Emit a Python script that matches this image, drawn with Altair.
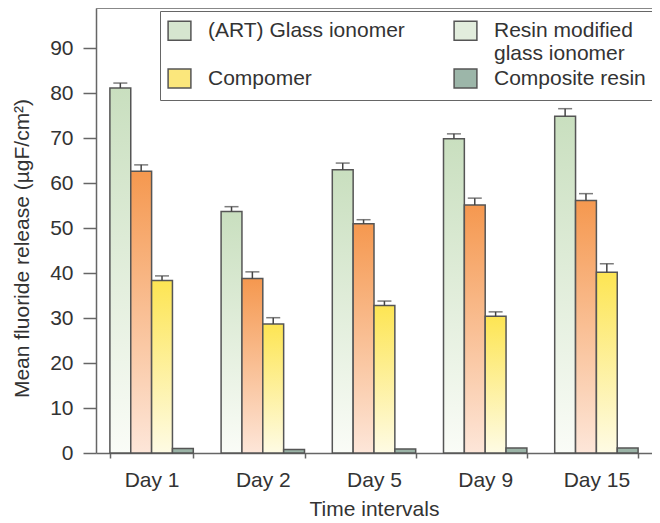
import altair as alt
import pandas as pd

days = ["Day 1", "Day 2", "Day 5", "Day 9", "Day 15"]
series = ["(ART) Glass ionomer", "Resin modified glass ionomer", "Compomer", "Composite resin"]
# legend is laid out column by column: ART, Compomer | Resin modified, Composite
legend_order = ["(ART) Glass ionomer", "Compomer", "Resin modified glass ionomer", "Composite resin"]

art = [81.2, 53.7, 63.0, 69.9, 74.9]
art_err = [1.1, 1.1, 1.5, 1.1, 1.7]
rmgi = [62.7, 38.8, 51.0, 55.2, 56.2]
rmgi_err = [1.4, 1.5, 0.9, 1.5, 1.5]
compomer = [38.4, 28.7, 32.8, 30.4, 40.2]
compomer_err = [1.0, 1.4, 1.0, 1.0, 1.9]
resin = [1.0, 0.8, 0.9, 1.1, 1.1]
resin_err = [0, 0, 0, 0, 0]

y_ticks = [0, 10, 20, 30, 40, 50, 60, 70, 80, 90]

bar_gradients = {
    series[0]: ("#c9dfbf", "#fafcf7"),
    series[1]: ("#f5984f", "#fde6d9"),
    series[2]: ("#fde553", "#fefbe4"),
    series[3]: ("#9ab3a6", "#9ab3a6"),
}
legend_colors = ["#d6e6cf", "#fbe77c", "#e2eddd", "#9cb6a9"]

vals = [art, rmgi, compomer, resin]
errs = [art_err, rmgi_err, compomer_err, resin_err]
rows = []
for s, v, e in zip(series, vals, errs):
    for d, vv, ee in zip(days, v, e):
        rows.append({"day": d, "series": s, "value": vv, "err": ee, "top": vv + ee})
df = pd.DataFrame(rows)

FONT = "Liberation Sans"
TXT = "#333333"
AX = "#666666"
FS = 21
W = 556

x_enc = alt.X(
    "day:N",
    scale=alt.Scale(domain=days, paddingInner=0.25, paddingOuter=0.125),
    axis=alt.Axis(
        title="Time intervals", tickBand="extent", tickSize=5, tickColor=AX,
        tickWidth=1.5, domainColor=AX, domainWidth=1.5, labelAngle=0,
        labelFontSize=FS, labelFont=FONT, labelColor=TXT, labelPadding=11,
        titleFontSize=FS, titleFont=FONT, titleColor=TXT, titleFontWeight="normal",
        titlePadding=8, titleX=278,
    ),
)
xo_enc = alt.XOffset("series:N", scale=alt.Scale(domain=series, paddingInner=0, paddingOuter=0))
y_enc = alt.Y(
    "value:Q",
    scale=alt.Scale(domain=[0, 99], nice=False),
    axis=alt.Axis(
        title="Mean fluoride release (µgF/cm²)", values=y_ticks, tickSize=13,
        tickColor=AX, tickWidth=1.5, domainColor=AX, domainWidth=1.5, grid=False,
        labelFontSize=FS, labelFont=FONT, labelColor=TXT, labelPadding=10,
        titleFontSize=FS, titleFont=FONT, titleColor=TXT, titleFontWeight="normal",
        titlePadding=17, titleY=240,
    ),
)

base = alt.Chart(df)
layers = []
for s in series:
    c_top, c_bot = bar_gradients[s]
    grad = alt.Gradient(
        gradient="linear",
        stops=[alt.GradientStop(color=c_top, offset=0), alt.GradientStop(color=c_bot, offset=1)],
        x1=0, x2=0, y1=0, y2=1,
    )
    layers.append(
        base.transform_filter(alt.datum.series == s)
        .mark_bar(fill=grad, stroke="#555555", strokeWidth=1.5)
        .encode(x=x_enc, xOffset=xo_enc, y=y_enc)
    )

err_data = base.transform_filter(alt.datum.err > 0)
err_rule = err_data.mark_rule(color="#444444", strokeWidth=1.5).encode(
    x=x_enc, xOffset=xo_enc, y="value:Q", y2="top:Q"
)
err_cap = err_data.mark_tick(color="#444444", thickness=1.5, size=14, orient="horizontal").encode(
    x=x_enc, xOffset=xo_enc, y="top:Q"
)

top_line = base.mark_rule(color="#888888", strokeWidth=1.2).encode(
    x=alt.value(0), x2=alt.value(W), y=alt.value(0)
)

legend_layer = base.transform_filter("false").mark_square(opacity=1).encode(
    color=alt.Color(
        "series:N",
        scale=alt.Scale(domain=legend_order, range=legend_colors),
        legend=alt.Legend(
            title=None, orient="none", legendX=64, legendY=3, columns=2,
            columnPadding=46, rowPadding=2, padding=9,
            symbolType="M-1.2,-1H1.2V1H-1.2Z", symbolSize=361,
            symbolStrokeColor="#555555", symbolStrokeWidth=1.5, symbolOpacity=1,
            labelFontSize=FS, labelFont=FONT, labelColor=TXT, labelOffset=18,
            labelLimit=400,
            labelExpr=(
                "datum.label == 'Resin modified glass ionomer' ? ['Resin modified', 'glass ionomer'] : "
                "datum.label == '(ART) Glass ionomer' ? ['(ART) Glass ionomer', ' '] : datum.label"
            ),
            strokeColor="#666666", fillColor="white",
        ),
    )
)

chart = (
    alt.layer(*layers, err_rule, err_cap, top_line, legend_layer)
    .properties(
        width=W, height=445,
        padding={"left": 88, "top": 0, "right": 0, "bottom": 66},
        autosize=alt.AutoSizeParams(type="none"),
    )
    .configure_view(stroke=None)
)

chart.save("out.html", embed_options={"renderer": "svg", "actions": False})
